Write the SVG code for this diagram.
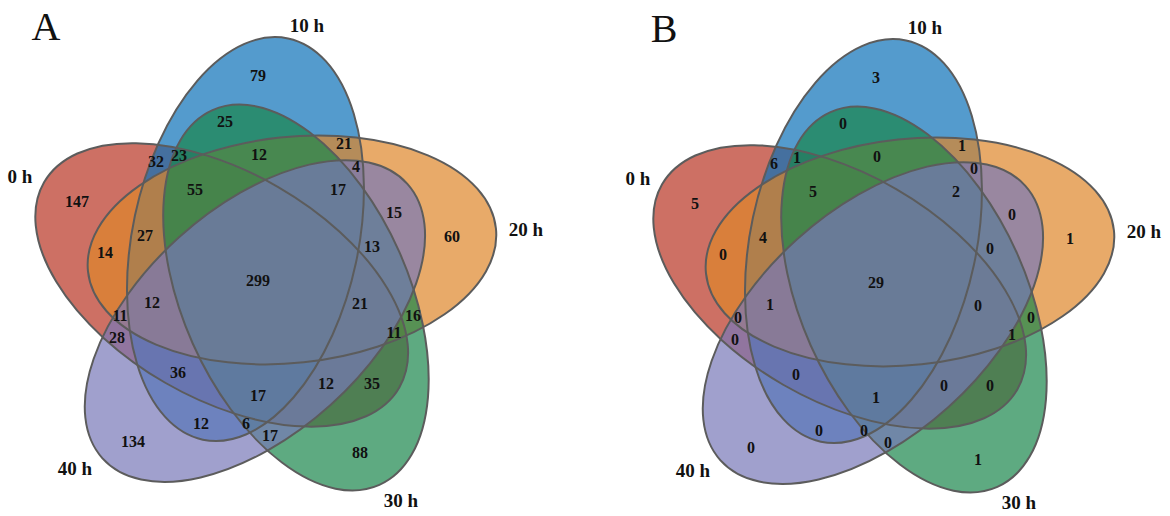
<svg xmlns="http://www.w3.org/2000/svg" width="1170" height="516" viewBox="0 0 1170 516">
<style>
.n{font-family:"Liberation Serif","Times New Roman",serif;font-weight:bold;font-size:16px;text-anchor:middle;fill:#111}
.lab{font-family:"Liberation Serif","Times New Roman",serif;font-weight:bold;font-size:19px;text-anchor:middle;fill:#111}
.pl{font-family:"Liberation Serif","Times New Roman",serif;font-size:40px;text-anchor:middle;fill:#111}
.fr{fill:#B83322;fill-opacity:.7}
.fb{fill:#0C70B8;fill-opacity:.7}
.fo{fill:#DE8629;fill-opacity:.7}
.fg{fill:#1A864C;fill-opacity:.7}
.fp{fill:#7777B8;fill-opacity:.7}
.ol{fill:none;stroke:#5c5c5c;stroke-width:2}
</style>
<defs>
<ellipse id="e0" rx="113" ry="205.1" transform="translate(1,5) rotate(288) translate(-15.74,-37.46) rotate(12)"/>
<ellipse id="e10" rx="113" ry="205.1" transform="translate(-15.74,-37.46) rotate(12)"/>
<ellipse id="e20" rx="113" ry="205.1" transform="rotate(72) translate(-15.74,-37.46) rotate(12)"/>
<ellipse id="e30" rx="113" ry="205.1" transform="rotate(144) translate(-15.74,-37.46) rotate(12)"/>
<ellipse id="e40" rx="113" ry="205.1" transform="translate(3,5) rotate(216) translate(-15.74,-37.46) rotate(12)"/>
</defs>
<rect width="1170" height="516" fill="#fff"/>

<text class="pl" x="46" y="40">A</text>
<g id="A-0h"><use href="#e0" x="261.2" y="276.5" class="fr"/><text class="lab" x="20" y="183">0 h</text></g>
<g id="A-10h"><use href="#e10" x="261.2" y="276.5" class="fb"/><text class="lab" x="307" y="32">10 h</text></g>
<g id="A-20h"><use href="#e20" x="261.2" y="276.5" class="fo"/><text class="lab" x="526" y="236">20 h</text></g>
<g id="A-30h"><use href="#e30" x="261.2" y="276.5" class="fg"/><text class="lab" x="401" y="507">30 h</text></g>
<g id="A-40h"><use href="#e40" x="261.2" y="276.5" class="fp"/><text class="lab" x="75" y="475">40 h</text></g>
<g id="A-outlines" class="ol">
<use href="#e0" x="261.2" y="276.5"/><use href="#e10" x="261.2" y="276.5"/><use href="#e20" x="261.2" y="276.5"/><use href="#e30" x="261.2" y="276.5"/><use href="#e40" x="261.2" y="276.5"/>
</g>
<g id="A-counts" class="n">
<text x="258" y="81">79</text><text x="225" y="127">25</text><text x="259" y="160">12</text><text x="179" y="161">23</text><text x="156" y="167">32</text><text x="344" y="149">21</text><text x="356" y="172">4</text>
<text x="77" y="207">147</text><text x="195" y="195">55</text><text x="338" y="195">17</text><text x="394" y="218">15</text><text x="452" y="242">60</text>
<text x="105" y="258">14</text><text x="145" y="241">27</text><text x="372" y="252">13</text><text x="258" y="286">299</text>
<text x="152" y="308">12</text><text x="360" y="309">21</text><text x="120" y="321">11</text><text x="413" y="321">16</text><text x="394" y="338">11</text><text x="117" y="343">28</text>
<text x="178" y="378">36</text><text x="258" y="401">17</text><text x="326" y="389">12</text><text x="372" y="389">35</text>
<text x="201" y="429">12</text><text x="246" y="429">6</text><text x="270" y="441">17</text><text x="133" y="447">134</text><text x="360" y="458">88</text>
</g>

<text class="pl" x="664" y="42">B</text>
<g id="B-0h"><use href="#e0" x="879.2" y="278.5" class="fr"/><text class="lab" x="638" y="185">0 h</text></g>
<g id="B-10h"><use href="#e10" x="879.2" y="278.5" class="fb"/><text class="lab" x="925" y="34">10 h</text></g>
<g id="B-20h"><use href="#e20" x="879.2" y="278.5" class="fo"/><text class="lab" x="1144" y="238">20 h</text></g>
<g id="B-30h"><use href="#e30" x="879.2" y="278.5" class="fg"/><text class="lab" x="1019" y="509">30 h</text></g>
<g id="B-40h"><use href="#e40" x="879.2" y="278.5" class="fp"/><text class="lab" x="693" y="477">40 h</text></g>
<g id="B-outlines" class="ol">
<use href="#e0" x="879.2" y="278.5"/><use href="#e10" x="879.2" y="278.5"/><use href="#e20" x="879.2" y="278.5"/><use href="#e30" x="879.2" y="278.5"/><use href="#e40" x="879.2" y="278.5"/>
</g>
<g id="B-counts" class="n">
<text x="876" y="83">3</text><text x="843" y="129">0</text><text x="877" y="162">0</text><text x="797" y="163">1</text><text x="774" y="169">6</text><text x="962" y="151">1</text><text x="974" y="174">0</text>
<text x="695" y="209">5</text><text x="813" y="197">5</text><text x="956" y="197">2</text><text x="1012" y="220">0</text><text x="1070" y="244">1</text>
<text x="723" y="260">0</text><text x="763" y="243">4</text><text x="990" y="254">0</text><text x="876" y="288">29</text>
<text x="770" y="310">1</text><text x="978" y="311">0</text><text x="738" y="323">0</text><text x="1031" y="323">0</text><text x="1012" y="340">1</text><text x="735" y="345">0</text>
<text x="796" y="380">0</text><text x="876" y="403">1</text><text x="944" y="391">0</text><text x="990" y="391">0</text>
<text x="819" y="436">0</text><text x="864" y="436">0</text><text x="888" y="448">0</text><text x="751" y="453">0</text><text x="978" y="465">1</text>
</g>
</svg>
